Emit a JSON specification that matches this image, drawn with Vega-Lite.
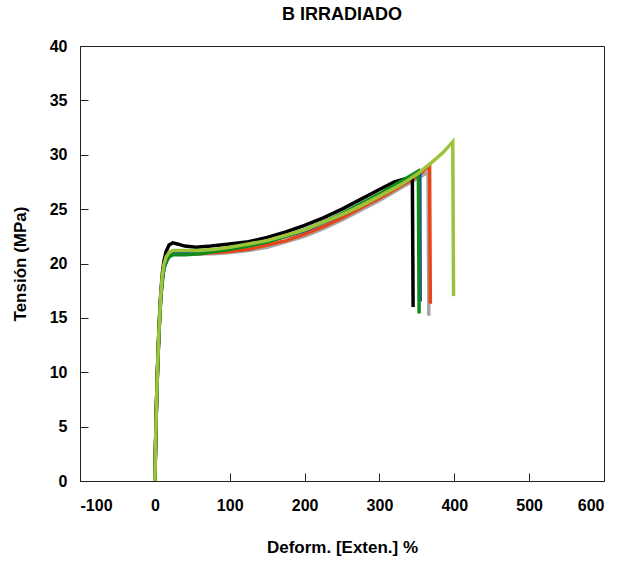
{
  "$schema": "https://vega.github.io/schema/vega-lite/v6.json",
  "width": 524,
  "height": 435,
  "autosize": {"type": "none"},
  "padding": {"left": 80, "top": 46, "right": 20, "bottom": 82},
  "background": "white",
  "title": {
    "text": "B IRRADIADO",
    "font": "Liberation Sans",
    "fontSize": 18,
    "fontWeight": "bold",
    "color": "black",
    "offset": 14
  },
  "config": {
    "view": {"stroke": "#222222", "strokeWidth": 1},
    "axis": {
      "grid": false,
      "labelFont": "Liberation Sans",
      "labelFontSize": 16,
      "labelFontWeight": "bold",
      "labelColor": "black",
      "titleFont": "Liberation Sans",
      "titleFontSize": 17,
      "titleFontWeight": "bold",
      "titleColor": "black",
      "domainColor": "#222222",
      "tickColor": "#222222",
      "tickSize": -8
    }
  },
  "data": {
    "values": [
      {"probeta": "1", "x": 0, "y": 0}, {"probeta": "1", "x": 1, "y": 3.5}, {"probeta": "1", "x": 2, "y": 6.5}, {"probeta": "1", "x": 3, "y": 9}, {"probeta": "1", "x": 4, "y": 11}, {"probeta": "1", "x": 5, "y": 12.8}, {"probeta": "1", "x": 6, "y": 14.4}, {"probeta": "1", "x": 7, "y": 15.8}, {"probeta": "1", "x": 8, "y": 17}, {"probeta": "1", "x": 10, "y": 18.6}, {"probeta": "1", "x": 12, "y": 19.6}, {"probeta": "1", "x": 15, "y": 20.3}, {"probeta": "1", "x": 19, "y": 20.7}, {"probeta": "1", "x": 24, "y": 20.9}, {"probeta": "1", "x": 40, "y": 20.9}, {"probeta": "1", "x": 60, "y": 20.9}, {"probeta": "1", "x": 80, "y": 20.9}, {"probeta": "1", "x": 100, "y": 21.0}, {"probeta": "1", "x": 125, "y": 21.2}, {"probeta": "1", "x": 150, "y": 21.5}, {"probeta": "1", "x": 175, "y": 22.0}, {"probeta": "1", "x": 200, "y": 22.5}, {"probeta": "1", "x": 225, "y": 23.2}, {"probeta": "1", "x": 250, "y": 24.0}, {"probeta": "1", "x": 275, "y": 24.9}, {"probeta": "1", "x": 300, "y": 25.8}, {"probeta": "1", "x": 325, "y": 26.8}, {"probeta": "1", "x": 350, "y": 27.8}, {"probeta": "1", "x": 365, "y": 28.4}, {"probeta": "1", "x": 366, "y": 15.2},

      {"probeta": "2", "x": 0, "y": 0}, {"probeta": "2", "x": 1, "y": 3.5}, {"probeta": "2", "x": 2, "y": 6.5}, {"probeta": "2", "x": 3, "y": 9}, {"probeta": "2", "x": 4, "y": 11}, {"probeta": "2", "x": 5, "y": 12.8}, {"probeta": "2", "x": 6, "y": 14.4}, {"probeta": "2", "x": 7, "y": 15.8}, {"probeta": "2", "x": 8, "y": 17}, {"probeta": "2", "x": 10, "y": 18.6}, {"probeta": "2", "x": 12, "y": 19.6}, {"probeta": "2", "x": 15, "y": 20.3}, {"probeta": "2", "x": 19, "y": 20.7}, {"probeta": "2", "x": 24, "y": 20.9}, {"probeta": "2", "x": 40, "y": 20.9}, {"probeta": "2", "x": 60, "y": 20.9}, {"probeta": "2", "x": 80, "y": 21.0}, {"probeta": "2", "x": 100, "y": 21.1}, {"probeta": "2", "x": 125, "y": 21.3}, {"probeta": "2", "x": 150, "y": 21.7}, {"probeta": "2", "x": 175, "y": 22.1}, {"probeta": "2", "x": 200, "y": 22.7}, {"probeta": "2", "x": 225, "y": 23.4}, {"probeta": "2", "x": 250, "y": 24.2}, {"probeta": "2", "x": 275, "y": 25.1}, {"probeta": "2", "x": 300, "y": 26.0}, {"probeta": "2", "x": 325, "y": 27.0}, {"probeta": "2", "x": 350, "y": 28.0}, {"probeta": "2", "x": 367, "y": 29.0}, {"probeta": "2", "x": 368, "y": 16.3},

      {"probeta": "3", "x": 0, "y": 0}, {"probeta": "3", "x": 2, "y": 6.5}, {"probeta": "3", "x": 4, "y": 11}, {"probeta": "3", "x": 6, "y": 14.4}, {"probeta": "3", "x": 8, "y": 17}, {"probeta": "3", "x": 12, "y": 19.6}, {"probeta": "3", "x": 19, "y": 20.7}, {"probeta": "3", "x": 24, "y": 20.9}, {"probeta": "3", "x": 40, "y": 20.9}, {"probeta": "3", "x": 60, "y": 21.0}, {"probeta": "3", "x": 100, "y": 21.3}, {"probeta": "3", "x": 150, "y": 22.0}, {"probeta": "3", "x": 200, "y": 23.0}, {"probeta": "3", "x": 250, "y": 24.5}, {"probeta": "3", "x": 300, "y": 26.3}, {"probeta": "3", "x": 330, "y": 27.4}, {"probeta": "3", "x": 345, "y": 28.0}, {"probeta": "3", "x": 354, "y": 28.3}, {"probeta": "3", "x": 354.5, "y": 16.5},

      {"probeta": "4", "x": 0, "y": 0}, {"probeta": "4", "x": 1, "y": 3.6}, {"probeta": "4", "x": 2, "y": 6.7}, {"probeta": "4", "x": 3, "y": 9.3}, {"probeta": "4", "x": 4, "y": 11.4}, {"probeta": "4", "x": 5, "y": 13.2}, {"probeta": "4", "x": 6, "y": 14.8}, {"probeta": "4", "x": 7, "y": 16.2}, {"probeta": "4", "x": 8, "y": 17.4}, {"probeta": "4", "x": 10, "y": 19.1}, {"probeta": "4", "x": 12, "y": 20.2}, {"probeta": "4", "x": 15, "y": 21.1}, {"probeta": "4", "x": 19, "y": 21.7}, {"probeta": "4", "x": 24, "y": 21.9}, {"probeta": "4", "x": 30, "y": 21.8}, {"probeta": "4", "x": 40, "y": 21.6}, {"probeta": "4", "x": 55, "y": 21.5}, {"probeta": "4", "x": 75, "y": 21.6}, {"probeta": "4", "x": 100, "y": 21.8}, {"probeta": "4", "x": 125, "y": 22.0}, {"probeta": "4", "x": 150, "y": 22.4}, {"probeta": "4", "x": 175, "y": 22.9}, {"probeta": "4", "x": 200, "y": 23.5}, {"probeta": "4", "x": 225, "y": 24.2}, {"probeta": "4", "x": 250, "y": 25.0}, {"probeta": "4", "x": 275, "y": 25.9}, {"probeta": "4", "x": 300, "y": 26.8}, {"probeta": "4", "x": 320, "y": 27.5}, {"probeta": "4", "x": 335, "y": 27.8}, {"probeta": "4", "x": 344, "y": 27.9}, {"probeta": "4", "x": 345, "y": 16.0},

      {"probeta": "5", "x": 0, "y": 0}, {"probeta": "5", "x": 1, "y": 3.5}, {"probeta": "5", "x": 2, "y": 6.5}, {"probeta": "5", "x": 3, "y": 9}, {"probeta": "5", "x": 4, "y": 11}, {"probeta": "5", "x": 5, "y": 12.8}, {"probeta": "5", "x": 6, "y": 14.4}, {"probeta": "5", "x": 7, "y": 15.8}, {"probeta": "5", "x": 8, "y": 17}, {"probeta": "5", "x": 10, "y": 18.6}, {"probeta": "5", "x": 12, "y": 19.5}, {"probeta": "5", "x": 15, "y": 20.2}, {"probeta": "5", "x": 19, "y": 20.6}, {"probeta": "5", "x": 24, "y": 20.8}, {"probeta": "5", "x": 40, "y": 20.8}, {"probeta": "5", "x": 60, "y": 20.9}, {"probeta": "5", "x": 80, "y": 21.1}, {"probeta": "5", "x": 100, "y": 21.3}, {"probeta": "5", "x": 125, "y": 21.6}, {"probeta": "5", "x": 150, "y": 22.0}, {"probeta": "5", "x": 175, "y": 22.5}, {"probeta": "5", "x": 200, "y": 23.1}, {"probeta": "5", "x": 225, "y": 23.8}, {"probeta": "5", "x": 250, "y": 24.6}, {"probeta": "5", "x": 275, "y": 25.5}, {"probeta": "5", "x": 300, "y": 26.4}, {"probeta": "5", "x": 330, "y": 27.6}, {"probeta": "5", "x": 345, "y": 28.2}, {"probeta": "5", "x": 352, "y": 28.5}, {"probeta": "5", "x": 353, "y": 15.4},

      {"probeta": "6", "x": 0, "y": 0}, {"probeta": "6", "x": 1, "y": 3.5}, {"probeta": "6", "x": 2, "y": 6.6}, {"probeta": "6", "x": 3, "y": 9.1}, {"probeta": "6", "x": 4, "y": 11.2}, {"probeta": "6", "x": 5, "y": 13}, {"probeta": "6", "x": 6, "y": 14.6}, {"probeta": "6", "x": 7, "y": 16}, {"probeta": "6", "x": 8, "y": 17.2}, {"probeta": "6", "x": 10, "y": 18.9}, {"probeta": "6", "x": 12, "y": 19.9}, {"probeta": "6", "x": 15, "y": 20.6}, {"probeta": "6", "x": 19, "y": 21.0}, {"probeta": "6", "x": 24, "y": 21.2}, {"probeta": "6", "x": 40, "y": 21.2}, {"probeta": "6", "x": 60, "y": 21.2}, {"probeta": "6", "x": 80, "y": 21.3}, {"probeta": "6", "x": 100, "y": 21.5}, {"probeta": "6", "x": 125, "y": 21.8}, {"probeta": "6", "x": 150, "y": 22.1}, {"probeta": "6", "x": 175, "y": 22.6}, {"probeta": "6", "x": 200, "y": 23.1}, {"probeta": "6", "x": 225, "y": 23.8}, {"probeta": "6", "x": 250, "y": 24.5}, {"probeta": "6", "x": 275, "y": 25.3}, {"probeta": "6", "x": 300, "y": 26.2}, {"probeta": "6", "x": 330, "y": 27.3}, {"probeta": "6", "x": 350, "y": 28.2}, {"probeta": "6", "x": 370, "y": 29.3}, {"probeta": "6", "x": 385, "y": 30.2}, {"probeta": "6", "x": 398, "y": 31.2}, {"probeta": "6", "x": 399, "y": 17.0}
    ]
  },
  "mark": {"type": "line", "strokeWidth": 3.5, "clip": true},
  "encoding": {
    "x": {
      "field": "x",
      "type": "quantitative",
      "scale": {"domain": [-100, 600], "nice": false, "zero": false},
      "axis": {
        "title": "Deform. [Exten.] %",
        "values": [-100, 0, 100, 200, 300, 400, 500, 600],
        "labelExpr": "'' + datum.value",
        "labelPadding": 24,
        "titlePadding": 26
      }
    },
    "y": {
      "field": "y",
      "type": "quantitative",
      "scale": {"domain": [0, 40], "nice": false},
      "axis": {
        "title": "Tensión (MPa)",
        "values": [0, 5, 10, 15, 20, 25, 30, 35, 40],
        "labelPadding": 21,
        "titlePadding": 20
      }
    },
    "color": {
      "field": "probeta",
      "type": "nominal",
      "scale": {
        "domain": ["1", "2", "3", "4", "5", "6"],
        "range": ["#a6a6a6", "#e8441a", "#1f4fa0", "#000000", "#108a1a", "#9cc43a"]
      },
      "legend": null
    }
  }
}
